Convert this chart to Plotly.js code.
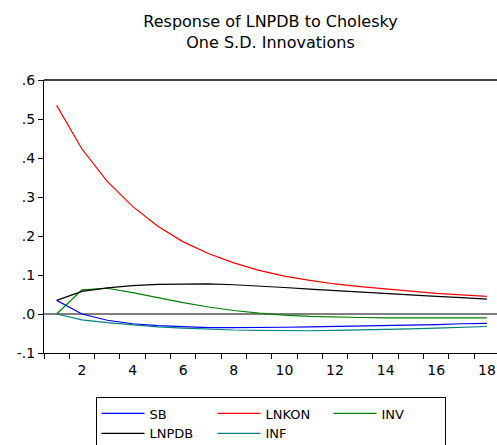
<!DOCTYPE html>
<html>
<head>
<meta charset="utf-8">
<script src="https://cdn.plot.ly/plotly-3.0.1.min.js"></script>
<style>html,body{margin:0;padding:0;background:#fff;}#chart{width:497px;height:445px;}</style>
</head>
<body>
<div id="chart"></div>
<script>
var periods = [1,2,3,4,5,6,7,8,9,10,11,12,13,14,15,16,17,18];
var SB    = [0.035, 0.000, -0.016, -0.025, -0.030, -0.033, -0.035, -0.035, -0.035, -0.034, -0.033, -0.032, -0.031, -0.030, -0.028, -0.027, -0.025, -0.024];
var LNKON = [0.535, 0.423, 0.340, 0.276, 0.225, 0.185, 0.155, 0.131, 0.112, 0.097, 0.086, 0.077, 0.070, 0.064, 0.058, 0.053, 0.049, 0.045];
var INV   = [0.000, 0.062, 0.066, 0.055, 0.042, 0.029, 0.018, 0.009, 0.002, -0.003, -0.006, -0.008, -0.009, -0.010, -0.010, -0.010, -0.010, -0.010];
var LNPDB = [0.035, 0.058, 0.067, 0.073, 0.076, 0.077, 0.077, 0.075, 0.072, 0.068, 0.064, 0.060, 0.056, 0.053, 0.049, 0.045, 0.042, 0.038];
var INF   = [0.000, -0.015, -0.022, -0.028, -0.033, -0.036, -0.039, -0.041, -0.042, -0.043, -0.043, -0.042, -0.041, -0.040, -0.038, -0.036, -0.034, -0.032];

var seriesNames = ['SB', 'LNKON', 'INV', 'LNPDB', 'INF'];
var seriesData = [SB, LNKON, INV, LNPDB, INF];
var seriesColors = ['#0000FF', '#FF0000', '#008000', '#000000', '#008080'];

var xTickVals = [2,4,6,8,10,12,14,16,18];
var xTickText = ['2','4','6','8','10','12','14','16','18'];
var yTickVals = [-0.1, 0, 0.1, 0.2, 0.3, 0.4, 0.5, 0.6];
var yTickText = ['-.1', '.0', '.1', '.2', '.3', '.4', '.5', '.6'];
var titleText = 'Response of LNPDB to Cholesky<br>One S.D. Innovations';

var FONT = 'DejaVu Sans, Arial, sans-serif';

var traces = seriesNames.map(function(n, i){
  return {
    x: periods, y: seriesData[i], name: n, type: 'scatter', mode: 'lines',
    line: {color: seriesColors[i], width: 1.2}
  };
});

var layout = {
  width: 497, height: 445,
  margin: {l: 44, r: 0, t: 80, b: 92, pad: 0, autoexpand: false},
  paper_bgcolor: '#fff', plot_bgcolor: '#fff',
  font: {family: FONT, size: 14, color: '#000'},
  title: {text: titleText, font: {family: FONT, size: 16, color: '#000'},
          x: 0.5, xref: 'paper', xanchor: 'center', y: 0.939, yref: 'container', yanchor: 'top'},
  showlegend: true,
  legend: {
    orientation: 'h', x: 0.5, xanchor: 'center', y: -0.163, yanchor: 'top',
    bordercolor: '#000', borderwidth: 1, bgcolor: '#fff',
    font: {family: FONT, size: 13, color: '#000'},
    itemwidth: 43, entrywidth: 58, entrywidthmode: 'pixels',
    tracegroupgap: 0, traceorder: 'normal'
  },
  xaxis: {
    range: [0.5, 18.4], showgrid: false, zeroline: false,
    showline: true, linecolor: '#000', linewidth: 1,
    tickmode: 'array', tickvals: xTickVals, ticktext: xTickText, ticks: '',
    ticklabelstandoff: 4,
    minor: {ticks: 'outside', tick0: 0.5, dtick: 1, ticklen: 5, tickcolor: '#000', tickwidth: 1, showgrid: false},
    tickfont: {family: FONT, size: 14, color: '#000'}, fixedrange: true
  },
  yaxis: {
    range: [-0.1, 0.6], showgrid: false,
    zeroline: true, zerolinecolor: '#808080', zerolinewidth: 2,
    showline: true, linecolor: '#000', linewidth: 1,
    tickmode: 'array', tickvals: yTickVals, ticktext: yTickText,
    ticks: 'outside', ticklen: 5, tickcolor: '#000', tickwidth: 1,
    tickfont: {family: FONT, size: 14, color: '#000'}, fixedrange: true
  },
  shapes: [
    {type: 'line', xref: 'paper', yref: 'paper', x0: 0, x1: 1, y0: 1, y1: 1,
     line: {color: '#000', width: 1.5}}
  ]
};

Plotly.newPlot('chart', traces, layout, {displayModeBar: false, staticPlot: true});
</script>
</body>
</html>
